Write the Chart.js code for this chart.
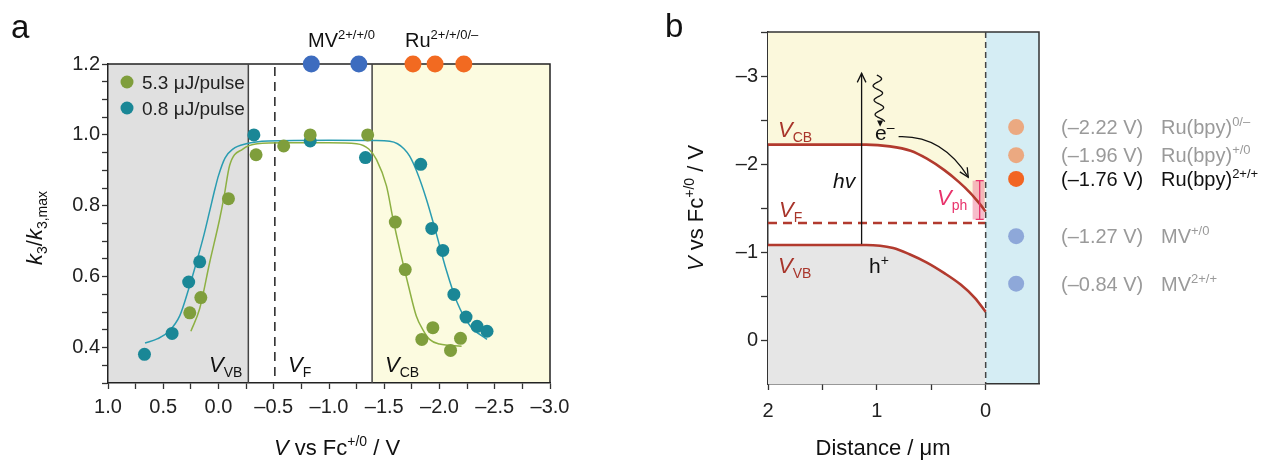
<!DOCTYPE html>
<html>
<head>
<meta charset="utf-8">
<script src="https://cdn.jsdelivr.net/npm/chart.js@4.4.1/dist/chart.umd.min.js"></script>
<style>
  html, body { margin: 0; padding: 0; background: #fff; }
  #wrap { position: relative; width: 1262px; height: 462px; }
  .panel { position: absolute; top: 0; height: 462px; }
</style>
</head>
<body>
<div id="wrap">
  <div class="panel" style="left:0;width:640px"><canvas id="chartA"></canvas></div>
  <div class="panel" style="left:640px;width:622px"><canvas id="chartB"></canvas></div>
</div>
<script>
// ---------- panel a data ----------
// 5.3 uJ/pulse
const hiV = [0.26, 0.16, -0.09, -0.34, -0.59, -0.83, -1.35, -1.60, -1.69, -1.84, -1.94, -2.10, -2.19];
const hiK = [0.498, 0.541, 0.82, 0.944, 0.969, 1.0, 1.0, 0.754, 0.62, 0.423, 0.456, 0.392, 0.426];
// 0.8 uJ/pulse
const loV = [0.67, 0.42, 0.27, 0.17, -0.32, -0.83, -1.33, -1.83, -1.93, -2.03, -2.13, -2.24, -2.34, -2.43];
const loK = [0.381, 0.44, 0.585, 0.642, 1.0, 0.983, 0.936, 0.917, 0.736, 0.674, 0.55, 0.486, 0.46, 0.446];
// fitted curves
const hiFitV = [0.25, 0.17, 0.08, -0.01, -0.05, -0.10, -0.22, -0.35, -0.6, -1.0, -1.25, -1.36, -1.43, -1.52, -1.58, -1.64, -1.72, -1.79, -1.85, -1.91, -2.0, -2.2];
const hiFitK = [0.446, 0.51, 0.64, 0.762, 0.825, 0.913, 0.96, 0.975, 0.978, 0.978, 0.975, 0.96, 0.93, 0.856, 0.762, 0.677, 0.573, 0.489, 0.45, 0.423, 0.41, 0.404];
const loFitV = [0.665, 0.55, 0.45, 0.35, 0.27, 0.2, 0.13, 0.08, 0.03, 0.0, -0.06, -0.13, -0.25, -0.45, -1.0, -1.4, -1.55, -1.62, -1.68, -1.73, -1.79, -1.88, -1.96, -2.06, -2.16, -2.28, -2.43];
const loFitK = [0.413, 0.425, 0.445, 0.49, 0.565, 0.64, 0.72, 0.785, 0.85, 0.885, 0.935, 0.96, 0.975, 0.983, 0.985, 0.984, 0.982, 0.975, 0.96, 0.94, 0.90, 0.82, 0.734, 0.62, 0.527, 0.46, 0.423];
// redox couples on the top axis
const mvPot = [-0.84, -1.27];
const ruPot = [-1.76, -1.96, -2.22];
const topK = 1.2;
// band edges / Fermi level (V vs Fc)
const vVB = -0.27, vF = -0.51, vCB = -1.39;

// ---------- panel b data ----------
const distCB = [2, 1.5, 1.1, 0.88, 0.69, 0.54, 0.38, 0.25, 0.14, 0.06, 0];
const potCB  = [-2.22, -2.22, -2.22, -2.20, -2.15, -2.06, -1.93, -1.80, -1.67, -1.555, -1.46];
const distVB = [2, 1.5, 1.1, 0.85, 0.7, 0.54, 0.38, 0.23, 0.1, 0];
const potVB  = [-1.08, -1.08, -1.08, -1.045, -0.975, -0.88, -0.76, -0.63, -0.48, -0.32];
const distF = [2, 0];
const potF  = [-1.33, -1.33];
const redoxPot     = ['(–2.22 V)', '(–1.96 V)', '(–1.76 V)', '(–1.27 V)', '(–0.84 V)'];
const redoxSpecies = ['Ru(bpy)', 'Ru(bpy)', 'Ru(bpy)', 'MV', 'MV'];
const redoxCouple  = ['0/–', '+/0', '2+/+', '+/0', '2+/+'];
const redoxY       = [-2.42, -2.10, -1.83, -1.18, -0.64];
const redoxDist    = -0.28;

// ---------- styles ----------
const FONT = "'Liberation Sans', Arial, Helvetica, sans-serif";
const GREEN = '#7f9e3c', TEAL = '#1a8796';
const GREEN_FIT = '#8db043', TEAL_FIT = '#2a9cb1';
const BLUE = '#3d6cbf', ORANGE = '#f26a21';
const BAND = '#b23a2e';
const redoxColors = ['#eba981', '#eba981', '#f26522', '#8ea8d9', '#8ea8d9'];
const redoxText = ['#9a9a9a', '#9a9a9a', '#111', '#9a9a9a', '#9a9a9a'];

function rich(ctx, parts, x, y, size, color, align) {
  ctx.save();
  ctx.fillStyle = color;
  ctx.textBaseline = 'alphabetic';
  ctx.textAlign = 'left';
  const segs = parts.map(([t, k]) => {
    k = k || '';
    const small = k.includes('sub') || k.includes('sup');
    const s = small ? Math.round(size * 0.65) : size;
    const f = (k === 'i' ? 'italic ' : '') + s + 'px ' + FONT;
    ctx.font = f;
    const dy = k.includes('sub') ? size * 0.24 : k.includes('sup') ? -size * 0.4 : 0;
    return { t, f, dy, w: ctx.measureText(t).width };
  });
  const total = segs.reduce((a, s) => a + s.w, 0);
  let cx = align === 'center' ? x - total / 2 : align === 'right' ? x - total : x;
  segs.forEach(s => { ctx.font = s.f; ctx.fillText(s.t, cx, y + s.dy); cx += s.w; });
  ctx.restore();
  return total;
}

function pts(xs, ys) { return xs.map((v, i) => ({ x: v, y: ys[i] })); }

const tickFont = { family: FONT, size: 20 };

// ---------- panel a ----------
const panelA = {
  id: 'panelA',
  beforeDraw(chart) {
    const { ctx, chartArea: a, scales: { x } } = chart;
    ctx.save();
    ctx.fillStyle = '#e0e0e0';
    const xv = x.getPixelForValue(vVB);
    ctx.fillRect(a.left, a.top, xv - a.left, a.bottom - a.top);
    ctx.fillStyle = '#fcfbe0';
    const xc = x.getPixelForValue(vCB);
    ctx.fillRect(xc, a.top, a.right - xc, a.bottom - a.top);
    ctx.restore();
  },
  beforeDatasetsDraw(chart) {
    const { ctx, chartArea: a, scales: { x } } = chart;
    ctx.save();
    ctx.strokeStyle = '#222';
    ctx.lineWidth = 1.5;
    ctx.beginPath();
    ctx.moveTo(a.left, a.top); ctx.lineTo(a.right, a.top); ctx.lineTo(a.right, a.bottom);
    ctx.stroke();
    ctx.strokeStyle = '#444';
    ctx.beginPath();
    ctx.moveTo(x.getPixelForValue(vVB), a.top); ctx.lineTo(x.getPixelForValue(vVB), a.bottom);
    ctx.moveTo(x.getPixelForValue(vCB), a.top); ctx.lineTo(x.getPixelForValue(vCB), a.bottom);
    ctx.stroke();
    ctx.strokeStyle = '#222';
    ctx.setLineDash([9, 6]);
    ctx.beginPath();
    ctx.moveTo(x.getPixelForValue(vF), a.top + 3); ctx.lineTo(x.getPixelForValue(vF), a.bottom);
    ctx.stroke();
    ctx.restore();
  },
  afterDraw(chart) {
    const { ctx } = chart;
    rich(ctx, [['a']], 11, 38, 33, '#111');
    // legend
    [[GREEN, '5.3 μJ/pulse', 82], [TEAL, '0.8 μJ/pulse', 108]].forEach(([c, t, y]) => {
      ctx.save();
      ctx.fillStyle = c;
      ctx.beginPath(); ctx.arc(127, y, 6.5, 0, Math.PI * 2); ctx.fill();
      ctx.restore();
      rich(ctx, [[t]], 142, y + 7, 19, '#222');
    });
    // top labels
    rich(ctx, [['MV'], ['2+/+/0', 'sup']], 308, 47, 20, '#111');
    rich(ctx, [['Ru'], ['2+/+/0/–', 'sup']], 405, 47, 20, '#111');
    // band labels
    rich(ctx, [['V', 'i'], ['VB', 'sub']], 209, 372, 22, '#111');
    rich(ctx, [['V', 'i'], ['F', 'sub']], 288, 372, 22, '#111');
    rich(ctx, [['V', 'i'], ['CB', 'sub']], 385, 372, 22, '#111');
    // axis titles
    rich(ctx, [['V', 'i'], [' vs Fc'], ['+/0', 'sup'], [' / V']], 337, 455, 22, '#111', 'center');
    ctx.save();
    ctx.translate(42, 228);
    ctx.rotate(-Math.PI / 2);
    rich(ctx, [['k', 'i'], ['3', 'sub'], ['/'], ['k', 'i'], ['3,max', 'sub']], 0, 0, 22, '#111', 'center');
    ctx.restore();
  }
};

new Chart(document.getElementById('chartA'), {
  type: 'scatter',
  data: {
    datasets: [
      { data: pts(hiV, hiK), backgroundColor: GREEN, pointRadius: 6.5, borderWidth: 0 },
      { data: pts(loV, loK), backgroundColor: TEAL, pointRadius: 6.5, borderWidth: 0 },
      { data: mvPot.map(v => ({ x: v, y: topK })), backgroundColor: BLUE, pointRadius: 8.5, borderWidth: 0, clip: false },
      { data: ruPot.map(v => ({ x: v, y: topK })), backgroundColor: ORANGE, pointRadius: 8.5, borderWidth: 0, clip: false },
      { type: 'line', data: pts(hiFitV, hiFitK), borderColor: GREEN_FIT, borderWidth: 1.5, pointRadius: 0, cubicInterpolationMode: 'monotone', fill: false },
      { type: 'line', data: pts(loFitV, loFitK), borderColor: TEAL_FIT, borderWidth: 1.5, pointRadius: 0, cubicInterpolationMode: 'monotone', fill: false }
    ]
  },
  options: {
    responsive: true,
    maintainAspectRatio: false,
    animation: false,
    layout: { autoPadding: false, padding: { top: 64, right: 90, left: 0, bottom: 0 } },
    plugins: { legend: { display: false }, tooltip: { enabled: false } },
    scales: {
      x: {
        type: 'linear', min: -3, max: 1, reverse: true,
        afterBuildTicks: s => { s.ticks = []; for (let i = 0; i <= 16; i++) s.ticks.push({ value: +(1 - i * 0.25).toFixed(2) }); },
        afterFit: s => { s.height = 79; s.paddingLeft = 0; s.paddingRight = 0; },
        grid: { drawOnChartArea: false, tickLength: 6, tickColor: '#333', tickWidth: 1.3 },
        border: { color: '#222', width: 1.5 },
        ticks: {
          font: tickFont, color: '#222', padding: 6, maxRotation: 0, autoSkip: false,
          callback: v => Math.abs(v * 2 - Math.round(v * 2)) < 1e-6 ? (v < 0 ? '–' + Math.abs(v).toFixed(1) : v.toFixed(1)) : ''
        }
      },
      y: {
        type: 'linear', min: 0.3, max: 1.2,
        afterBuildTicks: s => { s.ticks = []; for (let i = 0; i <= 18; i++) s.ticks.push({ value: +(0.3 + i * 0.05).toFixed(2) }); },
        afterFit: s => { s.width = 108; s.paddingTop = 0; s.paddingBottom = 0; },
        grid: { drawOnChartArea: false, tickLength: 6, tickColor: '#333', tickWidth: 1.3 },
        border: { color: '#222', width: 1.5 },
        ticks: {
          font: tickFont, color: '#222', padding: 2, autoSkip: false,
          callback: v => (v > 0.35 && Math.abs(v * 5 - Math.round(v * 5)) < 1e-6) ? v.toFixed(1) : ''
        }
      }
    }
  },
  plugins: [panelA]
});

// ---------- panel b ----------
function arrowHead(ctx, x, y, ang, len, open) {
  ctx.beginPath();
  ctx.moveTo(x - len * Math.cos(ang - 0.45), y - len * Math.sin(ang - 0.45));
  ctx.lineTo(x, y);
  ctx.lineTo(x - len * Math.cos(ang + 0.45), y - len * Math.sin(ang + 0.45));
  if (open) ctx.stroke(); else { ctx.closePath(); ctx.fill(); }
}

const panelB = {
  id: 'panelB',
  beforeDraw(chart) {
    const { ctx, chartArea: a, scales: { x } } = chart;
    ctx.save();
    ctx.fillStyle = '#d5edf4';
    const x0 = x.getPixelForValue(0);
    ctx.fillRect(x0, a.top, a.right - x0, a.bottom - a.top);
    ctx.restore();
  },
  beforeDatasetsDraw(chart) {
    const { ctx, chartArea: a, scales: { x, y } } = chart;
    ctx.save();
    ctx.strokeStyle = '#333';
    ctx.lineWidth = 1.5;
    ctx.beginPath();
    ctx.moveTo(a.left, a.top); ctx.lineTo(a.right, a.top); ctx.lineTo(a.right, a.bottom);
    ctx.stroke();
    // photovoltage bar (over the band fills, under the band lines)
    const l = x.getPixelForValue(0.12), r = x.getPixelForValue(0.01);
    const t = y.getPixelForValue(-1.81), b = y.getPixelForValue(-1.37);
    ctx.fillStyle = 'rgba(240,120,150,0.5)';
    ctx.fillRect(l, t, r - l, b - t);
    ctx.restore();
  },
  afterDatasetsDraw(chart) {
    const { ctx, chartArea: a, scales: { x, y } } = chart;
    ctx.save();
    // photovoltage I-bar
    const xb = x.getPixelForValue(0.055);
    const t = y.getPixelForValue(-1.81), b = y.getPixelForValue(-1.37);
    ctx.strokeStyle = '#e8336b';
    ctx.lineWidth = 1.3;
    ctx.beginPath();
    ctx.moveTo(xb, t); ctx.lineTo(xb, b);
    ctx.moveTo(xb - 4, t); ctx.lineTo(xb + 4, t);
    ctx.moveTo(xb - 4, b); ctx.lineTo(xb + 4, b);
    ctx.stroke();
    // electrode boundary
    const x0 = x.getPixelForValue(0);
    ctx.strokeStyle = '#444';
    ctx.lineWidth = 1.5;
    ctx.setLineDash([6, 4]);
    ctx.beginPath(); ctx.moveTo(x0, a.top); ctx.lineTo(x0, a.bottom); ctx.stroke();
    ctx.setLineDash([]);
    // hv arrow
    ctx.strokeStyle = '#111';
    ctx.fillStyle = '#111';
    ctx.lineWidth = 1.3;
    const xh = x.getPixelForValue(1.14);
    const y1 = y.getPixelForValue(-1.09), y2 = y.getPixelForValue(-3.03);
    ctx.beginPath(); ctx.moveTo(xh, y1); ctx.lineTo(xh, y2); ctx.stroke();
    arrowHead(ctx, xh, y2, -Math.PI / 2, 10, true);
    // wavy photon arrow
    const wx0 = x.getPixelForValue(1.0), wy0 = y.getPixelForValue(-3.01);
    const wx1 = x.getPixelForValue(0.97), wy1 = y.getPixelForValue(-2.48);
    ctx.beginPath();
    for (let i = 0; i <= 80; i++) {
      const f = i / 80;
      const px = wx0 + (wx1 - wx0) * f + 4.5 * Math.sin(f * Math.PI * 6.5);
      const py = wy0 + (wy1 - wy0) * f;
      if (i === 0) ctx.moveTo(px, py); else ctx.lineTo(px, py);
    }
    ctx.stroke();
    arrowHead(ctx, wx1, wy1 + 5, Math.PI / 2, 7, false);
    // electron transfer arrow
    const cx0 = x.getPixelForValue(0.80), cy0 = y.getPixelForValue(-2.31);
    const cx1 = x.getPixelForValue(0.16), cy1 = y.getPixelForValue(-1.85);
    const qx = x.getPixelForValue(0.40), qy = y.getPixelForValue(-2.33);
    ctx.beginPath(); ctx.moveTo(cx0, cy0); ctx.quadraticCurveTo(qx, qy, cx1, cy1); ctx.stroke();
    arrowHead(ctx, cx1, cy1, Math.atan2(cy1 - qy, cx1 - qx), 10, true);
    ctx.restore();
  },
  afterDraw(chart) {
    const { ctx, chartArea: a, scales: { y } } = chart;
    rich(ctx, [['b']], 25, 37, 33, '#111');
    rich(ctx, [['V', 'i'], ['CB', 'sub']], 138, 137, 22, '#a8352b');
    rich(ctx, [['V', 'i'], ['F', 'sub']], 139, 217, 22, '#a8352b');
    rich(ctx, [['V', 'i'], ['VB', 'sub']], 138, 273, 22, '#a8352b');
    rich(ctx, [['hv', 'i']], 193, 188, 21, '#111');
    rich(ctx, [['e'], ['–', 'sup']], 235, 140, 21, '#111');
    rich(ctx, [['h'], ['+', 'sup']], 229, 273, 21, '#111');
    rich(ctx, [['V', 'i'], ['ph', 'sub']], 297, 205, 22, '#e8336b');
    // redox labels
    redoxPot.forEach((p, i) => {
      const py = y.getPixelForValue(redoxY[i]) + 7;
      rich(ctx, [[p]], a.right + 22, py, 20, redoxText[i]);
      rich(ctx, [[redoxSpecies[i]], [redoxCouple[i], 'sup']], a.right + 122, py, 20, redoxText[i]);
    });
    // axis titles
    rich(ctx, [['Distance / μm']], 243, 455, 22, '#111', 'center');
    ctx.save();
    ctx.translate(63, 208);
    ctx.rotate(-Math.PI / 2);
    rich(ctx, [['V', 'i'], [' vs Fc'], ['+/0', 'sup'], [' / V']], 0, 0, 22, '#111', 'center');
    ctx.restore();
  }
};

new Chart(document.getElementById('chartB'), {
  type: 'scatter',
  data: {
    datasets: [
      { data: redoxY.map(v => ({ x: redoxDist, y: v })), backgroundColor: redoxColors, pointRadius: 8, borderWidth: 0 },
      { type: 'line', data: pts(distCB, potCB), borderColor: BAND, borderWidth: 2.6, pointRadius: 0, cubicInterpolationMode: 'monotone', fill: 'end', backgroundColor: '#fbf8dc' },
      { type: 'line', data: pts(distVB, potVB), borderColor: BAND, borderWidth: 2.6, pointRadius: 0, cubicInterpolationMode: 'monotone', fill: 'start', backgroundColor: '#e6e6e6' },
      { type: 'line', data: pts(distF, potF), borderColor: BAND, borderWidth: 2.4, borderDash: [9, 6], pointRadius: 0, fill: false }
    ]
  },
  options: {
    responsive: true,
    maintainAspectRatio: false,
    animation: false,
    layout: { autoPadding: false, padding: { top: 32, right: 223, left: 0, bottom: 0 } },
    plugins: { legend: { display: false }, tooltip: { enabled: false }, filler: { drawTime: 'beforeDatasetsDraw' } },
    scales: {
      x: {
        type: 'linear', min: -0.49, max: 2, reverse: true,
        afterBuildTicks: s => { s.ticks = [2, 1.5, 1, 0.5, 0].map(v => ({ value: v })); },
        afterFit: s => { s.height = 78; s.paddingLeft = 0; s.paddingRight = 0; },
        grid: { drawOnChartArea: false, tickLength: 6, tickColor: '#333', tickWidth: 1.3 },
        border: { color: '#333', width: 1.5 },
        ticks: { font: tickFont, color: '#222', padding: 9, maxRotation: 0, autoSkip: false,
          callback: v => Number.isInteger(v) ? String(v) : '' }
      },
      y: {
        type: 'linear', min: -3.5, max: 0.5, reverse: true,
        afterBuildTicks: s => { s.ticks = [-3.5, -3, -2.5, -2, -1.5, -1, -0.5, 0].map(v => ({ value: v })); },
        afterFit: s => { s.width = 128; s.paddingTop = 0; s.paddingBottom = 0; },
        grid: { drawOnChartArea: false, tickLength: 7, tickColor: '#333', tickWidth: 1.3 },
        border: { color: '#333', width: 1.5 },
        ticks: { font: tickFont, color: '#222', padding: 3, autoSkip: false,
          callback: v => Number.isInteger(v) ? (v < 0 ? '–' + Math.abs(v) : String(v)) : '' }
      }
    }
  },
  plugins: [panelB]
});
</script>
</body>
</html>
